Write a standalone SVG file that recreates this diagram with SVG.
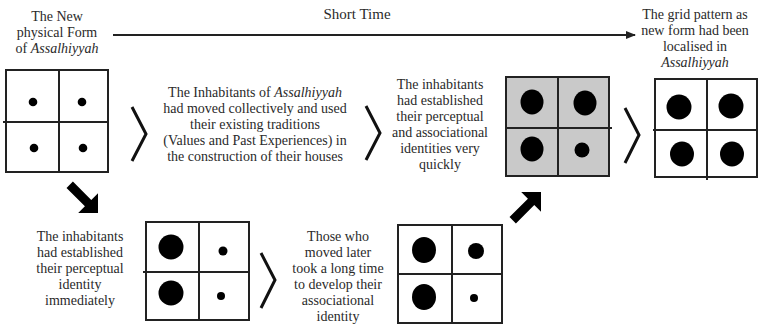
<svg xmlns="http://www.w3.org/2000/svg" width="759" height="324" viewBox="0 0 759 324">
  <defs>
    <style>
      .t { font-family: "Liberation Serif", "Times New Roman", serif; font-size: 14px; fill: #2a2a2a; text-anchor: middle; }
      .it { font-style: italic; }
      .box { fill: #ffffff; stroke: #222; stroke-width: 2; }
      .grey { fill: #c9c9c9; }
      .div { stroke: #222; stroke-width: 2; fill: none; }
      .dot { fill: #000; }
      .chev { fill: none; stroke: #111; stroke-width: 3; stroke-linejoin: miter; }
      .line { stroke: #222; stroke-width: 2; fill: none; }
      .bold-arrow { fill: #000; }
    </style>
    <marker id="head" markerWidth="10" markerHeight="8" refX="9" refY="4" orient="auto" markerUnits="userSpaceOnUse">
      <path d="M0,0 L10,4 L0,8 Z" fill="#222"/>
    </marker>
    <polygon id="fat-arrow" points="0,0 -14,-14 -14,-4.5 -40,-4.5 -40,4.5 -14,4.5 -14,14"/>
  </defs>

  <!-- Timeline -->
  <g id="timeline">
    <text class="t" x="357" y="19" style="font-size:15px">Short Time</text>
  </g>

  <!-- Connectors -->
  <g id="connectors">
    <line class="line" x1="113" y1="35" x2="635" y2="35" marker-end="url(#head)"/>
    <polyline class="chev" points="132,107 146,134 132,161"/>
    <polyline class="chev" points="366,106 380,133 366,160"/>
    <polyline class="chev" points="625,108 639,135 625,163"/>
    <polyline class="chev" points="261,253 275,280 261,308"/>
    <use href="#fat-arrow" class="bold-arrow" transform="translate(98,213) rotate(45)"/>
    <use href="#fat-arrow" class="bold-arrow" transform="translate(541,192) rotate(-45)"/>
  </g>

  <!-- Initial physical form -->
  <g id="node-new-form">
    <text class="t" x="57" y="21">The New</text>
    <text class="t" x="57" y="37">physical Form</text>
    <text class="t" x="57" y="53">of <tspan class="it">Assalhiyyah</tspan></text>
    <rect class="box" x="6" y="70" width="102" height="102"/>
    <line class="div" x1="59" y1="70" x2="59" y2="172"/>
    <line class="div" x1="3" y1="122" x2="108" y2="122"/>
    <circle class="dot" cx="33" cy="102" r="4.3"/>
    <circle class="dot" cx="82" cy="102" r="4.3"/>
    <circle class="dot" cx="34" cy="148" r="4.3"/>
    <circle class="dot" cx="83" cy="148" r="4.3"/>
  </g>

  <!-- Collective move -->
  <g id="node-collective">
    <text class="t" x="255" y="97">The Inhabitants of <tspan class="it">Assalhiyyah</tspan></text>
    <text class="t" x="255" y="113">had moved collectively and used</text>
    <text class="t" x="255" y="129">their existing traditions</text>
    <text class="t" x="255" y="145">(Values and Past Experiences) in</text>
    <text class="t" x="255" y="161">the construction of their houses</text>
  </g>

  <!-- Quick identities -->
  <g id="node-quick">
    <text class="t" x="440" y="89">The inhabitants</text>
    <text class="t" x="440" y="105">had established</text>
    <text class="t" x="440" y="121">their perceptual</text>
    <text class="t" x="440" y="137">and associational</text>
    <text class="t" x="440" y="153">identities very</text>
    <text class="t" x="440" y="169">quickly</text>
  </g>

  <!-- Established grid (grey) -->
  <g id="node-grey-grid">
    <rect class="box grey" x="506" y="77" width="103" height="99"/>
    <line class="div" x1="558" y1="77" x2="558" y2="177"/>
    <line class="div" x1="506" y1="128" x2="612" y2="128"/>
    <ellipse class="dot" cx="532" cy="102" rx="11.5" ry="12.5"/>
    <ellipse class="dot" cx="585" cy="103" rx="11.5" ry="12.5"/>
    <ellipse class="dot" cx="532" cy="149" rx="11.5" ry="12.5"/>
    <circle class="dot" cx="582" cy="150" r="7.5"/>
  </g>

  <!-- Localised grid -->
  <g id="node-localised">
    <text class="t" x="695" y="19">The grid pattern as</text>
    <text class="t" x="695" y="35">new form had been</text>
    <text class="t" x="695" y="51">localised in</text>
    <text class="t it" x="695" y="67">Assalhiyyah</text>
    <rect class="box" x="655" y="79" width="102" height="98"/>
    <line class="div" x1="707" y1="79" x2="707" y2="180"/>
    <line class="div" x1="653" y1="130" x2="757" y2="130"/>
    <ellipse class="dot" cx="679" cy="107" rx="12.5" ry="12.5"/>
    <ellipse class="dot" cx="731" cy="106" rx="12.5" ry="12.5"/>
    <ellipse class="dot" cx="682" cy="154" rx="12" ry="12.5"/>
    <ellipse class="dot" cx="732" cy="154" rx="12" ry="12.5"/>
  </g>

  <!-- Perceptual identity -->
  <g id="node-perceptual">
    <text class="t" x="80" y="241">The inhabitants</text>
    <text class="t" x="80" y="257">had established</text>
    <text class="t" x="80" y="273">their perceptual</text>
    <text class="t" x="80" y="289">identity</text>
    <text class="t" x="80" y="305">immediately</text>
    <rect class="box" x="146" y="222" width="103" height="98"/>
    <line class="div" x1="199" y1="222" x2="199" y2="320"/>
    <line class="div" x1="143" y1="272" x2="249" y2="272"/>
    <ellipse class="dot" cx="171" cy="247" rx="12.5" ry="12.5"/>
    <ellipse class="dot" cx="171" cy="293" rx="12.5" ry="12.5"/>
    <circle class="dot" cx="223" cy="251" r="4.5"/>
    <circle class="dot" cx="221" cy="296" r="4"/>
  </g>

  <!-- Later arrivals -->
  <g id="node-later">
    <text class="t" x="338" y="241">Those who</text>
    <text class="t" x="338" y="257">moved later</text>
    <text class="t" x="338" y="273">took a long time</text>
    <text class="t" x="338" y="289">to develop their</text>
    <text class="t" x="338" y="305">associational</text>
    <text class="t" x="338" y="321">identity</text>
    <rect class="box" x="398" y="225" width="104" height="98"/>
    <line class="div" x1="452" y1="225" x2="452" y2="323"/>
    <line class="div" x1="398" y1="274" x2="502" y2="274"/>
    <ellipse class="dot" cx="424" cy="250" rx="12" ry="13"/>
    <ellipse class="dot" cx="424" cy="297" rx="12" ry="13"/>
    <circle class="dot" cx="476" cy="251" r="8"/>
    <circle class="dot" cx="474" cy="298" r="4"/>
  </g>
</svg>
